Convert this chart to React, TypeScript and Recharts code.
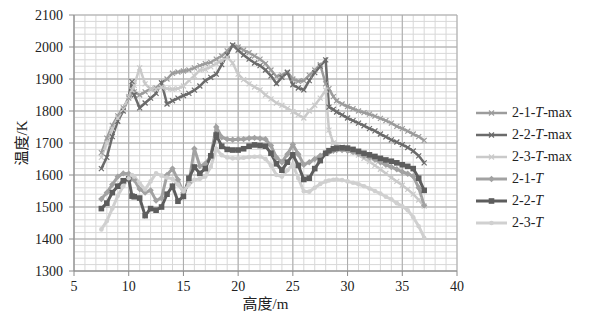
import React from 'react'
import { CartesianGrid, Legend, Line, LineChart, XAxis, YAxis } from 'recharts'

// height (m) of each sample point
const heights = [
  7.5, 8, 8.5, 9, 9.5, 10, 10.3, 10.5, 11, 11.5, 12, 12.5, 13, 13.5, 14, 14.5, 15, 15.5, 16, 16.5,
  17, 17.5, 18, 18.5, 19, 19.5, 20, 20.5, 21, 21.5, 22, 22.5, 23, 23.5, 24, 24.5, 25, 25.5, 26, 26.5,
  27, 27.5, 28, 28.3, 28.7, 29, 29.5, 30, 30.5, 31, 31.5, 32, 32.5, 33, 33.5, 34, 34.5, 35, 35.5, 36,
  36.5, 37,
]

// temperatures (K)
const t21max = [
  1670, 1715, 1755, 1785, 1810, 1840, 1855, 1860, 1850, 1860, 1868, 1872, 1888, 1900, 1918, 1922, 1925, 1928, 1935, 1942,
  1948, 1952, 1962, 1972, 1988, 2006, 2000, 1990, 1982, 1972, 1962, 1948, 1928, 1908, 1912, 1922, 1900, 1893, 1895, 1912,
  1928, 1945, 1885, 1870, 1845, 1832, 1822, 1814, 1807, 1800, 1795, 1790, 1784, 1777, 1770, 1762, 1752, 1745, 1737, 1728,
  1720, 1708,
]
const t22max = [
  1620, 1655, 1720, 1768, 1800, 1845, 1892, 1850, 1810, 1825, 1840, 1855, 1888, 1822, 1832, 1840, 1848, 1855, 1865, 1878,
  1895, 1905, 1915, 1945, 1975, 2006, 1990, 1975, 1962, 1950, 1942, 1928, 1910, 1886, 1905, 1920, 1882, 1872, 1866, 1895,
  1920, 1940, 1960, 1812, 1805, 1797, 1788, 1778, 1770, 1762, 1754, 1745, 1738, 1728, 1719, 1710, 1703, 1695, 1686, 1675,
  1660, 1638,
]
const t23max = [
  1655, 1700, 1745, 1778, 1805, 1845, 1865, 1880, 1935, 1885, 1868, 1868, 1875, 1870, 1868, 1870, 1878, 1895, 1910, 1928,
  1930, 1938, 1948, 1958, 1968, 1950, 1915, 1898, 1885, 1875, 1866, 1850, 1838, 1825, 1818, 1808, 1798, 1788, 1778, 1800,
  1818, 1840, 1865, 1740, 1700, 1692, 1688, 1682, 1672, 1662, 1652, 1642, 1630, 1618, 1605, 1592, 1580, 1568, 1555, 1540,
  1522, 1503,
]
const t21 = [
  1525, 1545, 1570, 1595, 1605, 1604, 1596, 1585, 1556, 1545, 1552, 1520, 1528, 1600, 1620, 1585, 1545, 1575, 1682, 1628,
  1635, 1660, 1750, 1718, 1712, 1710, 1712, 1712, 1715, 1716, 1714, 1712, 1692, 1655, 1640, 1665, 1695, 1665, 1632, 1640,
  1650, 1660, 1668, 1672, 1676, 1678, 1678, 1676, 1672, 1666, 1660, 1655, 1648, 1640, 1632, 1625, 1618, 1610, 1604, 1596,
  1560, 1505,
]
const t22 = [
  1495, 1512, 1545, 1565, 1582, 1588, 1534, 1532, 1528, 1473, 1495, 1490, 1500, 1540, 1565, 1518, 1533, 1590, 1625, 1605,
  1620, 1660, 1725, 1690, 1680, 1678, 1678, 1682, 1690, 1694, 1692, 1690, 1668, 1635, 1615, 1640, 1663, 1630, 1586, 1590,
  1620, 1645, 1668, 1676, 1682, 1684, 1685, 1684, 1680, 1674, 1668, 1663, 1658, 1652, 1647, 1643, 1638, 1632, 1627, 1620,
  1590, 1552,
]
const t23 = [
  1430, 1456, 1495, 1535, 1565, 1590, 1600, 1595, 1575, 1555, 1580, 1605, 1598, 1592, 1588, 1570, 1549, 1570, 1585, 1588,
  1595, 1625, 1682, 1662, 1655, 1652, 1652, 1654, 1656, 1657, 1658, 1650, 1630, 1600, 1595, 1615, 1632, 1590, 1549, 1548,
  1560, 1572, 1580, 1583, 1585, 1586, 1584, 1580, 1576, 1571, 1565, 1558, 1550, 1542, 1532, 1524, 1512, 1502, 1490, 1468,
  1440, 1404,
]

const xTicks = [5, 10, 15, 20, 25, 30, 35, 40]
const yTicks = [1300, 1400, 1500, 1600, 1700, 1800, 1900, 2000, 2100]
const xMinor = Array.from({ length: 36 }, (_, i) => 5 + i)
const yMinor = Array.from({ length: 41 }, (_, i) => 1300 + i * 20)

const series = [
  { key: 't21max', prefix: '2-1-', suffix: '-max', color: '#9c9c9c', width: 2.5, shape: 'cross' },
  { key: 't22max', prefix: '2-2-', suffix: '-max', color: '#6b6b6b', width: 2.5, shape: 'cross' },
  { key: 't23max', prefix: '2-3-', suffix: '-max', color: '#cacaca', width: 2.5, shape: 'cross' },
  { key: 't21', prefix: '2-1-', suffix: '', color: '#a2a2a2', width: 3, shape: 'diamond' },
  { key: 't22', prefix: '2-2-', suffix: '', color: '#5d5d5d', width: 3, shape: 'square' },
  { key: 't23', prefix: '2-3-', suffix: '', color: '#d0d0d0', width: 3, shape: 'circle' },
]

const data = heights.map((h, i) => ({
  h,
  t21max: t21max[i],
  t22max: t22max[i],
  t23max: t23max[i],
  t21: t21[i],
  t22: t22[i],
  t23: t23[i],
}))

const FONT = "'Liberation Serif', 'Times New Roman', 'DejaVu Serif', 'Noto Sans CJK SC', serif"

const Marker = ({ shape, color, x, y }: any) => {
  if (shape === 'cross') {
    return (
      <g stroke={color} strokeWidth={1.2}>
        <line x1={x - 2.5} y1={y - 2.5} x2={x + 2.5} y2={y + 2.5} />
        <line x1={x - 2.5} y1={y + 2.5} x2={x + 2.5} y2={y - 2.5} />
      </g>
    )
  }
  if (shape === 'diamond') {
    return <polygon points={`${x},${y - 3.2} ${x + 3.2},${y} ${x},${y + 3.2} ${x - 3.2},${y}`} fill={color} />
  }
  if (shape === 'square') {
    return <rect x={x - 2.8} y={y - 2.8} width={5.6} height={5.6} fill={color} />
  }
  return <circle cx={x} cy={y} r={2.3} fill={color} />
}

const makeDot = (shape: string, color: string) => (p: any) => {
  if (p.cx == null || p.cy == null) return <g key={p.index} />
  return (
    <g key={p.index}>
      <Marker shape={shape} color={color} x={p.cx} y={p.cy} />
    </g>
  )
}

const renderLegend = () => (
  <div style={{ width: 133, fontFamily: FONT, fontSize: 14, color: '#222' }}>
    {series.map((s) => (
      <div key={s.key} style={{ height: 22, display: 'flex', alignItems: 'center' }}>
        <svg width={36} height={22} style={{ flex: 'none' }}>
          <line x1={0} y1={11} x2={31} y2={11} stroke={s.color} strokeWidth={s.width} />
          <Marker shape={s.shape} color={s.color} x={15.5} y={11} />
        </svg>
        <span>
          {s.prefix}
          <i>T</i>
          {s.suffix}
        </span>
      </div>
    ))}
  </div>
)

const App = () => {
  return (
    <div style={{ width: 599, height: 316 }}>
      <LineChart width={599} height={316} data={data} margin={{ top: 7, right: 17, bottom: 13, left: 6 }}>
        <CartesianGrid stroke="#d8d8d8" strokeWidth={1} verticalValues={xMinor} horizontalValues={yMinor} />
        <CartesianGrid stroke="#ababab" strokeWidth={1} verticalValues={xTicks} horizontalValues={yTicks} />
        <XAxis
          dataKey="h"
          type="number"
          domain={[5, 40]}
          ticks={xTicks}
          interval={0}
          height={40}
          tickSize={5}
          tickMargin={5}
          stroke="#8c8c8c"
          tick={{ fill: '#222', fontSize: 14, fontFamily: FONT }}
          label={{
            value: '高度/m',
            position: 'insideBottom',
            offset: 2,
            style: { fill: '#222', fontSize: 15, fontFamily: FONT },
          }}
        />
        <YAxis
          type="number"
          domain={[1300, 2100]}
          ticks={yTicks}
          interval={0}
          width={60}
          tickSize={5}
          tickMargin={6}
          stroke="#8c8c8c"
          tick={{ fill: '#222', fontSize: 14, fontFamily: FONT }}
          label={{
            value: '温度/K',
            angle: -90,
            position: 'insideLeft',
            offset: 8,
            style: { fill: '#222', fontSize: 15, fontFamily: FONT, textAnchor: 'middle' },
          }}
        />
        <Legend
          layout="vertical"
          align="right"
          verticalAlign="top"
          content={renderLegend}
          wrapperStyle={{ left: 468, top: 94, width: 133 }}
        />
        {series.map((s) => (
          <Line
            key={s.key}
            type="linear"
            dataKey={s.key}
            stroke={s.color}
            strokeWidth={s.width}
            dot={makeDot(s.shape, s.color)}
            activeDot={false}
            isAnimationActive={false}
          />
        ))}
      </LineChart>
    </div>
  )
}

export default App
